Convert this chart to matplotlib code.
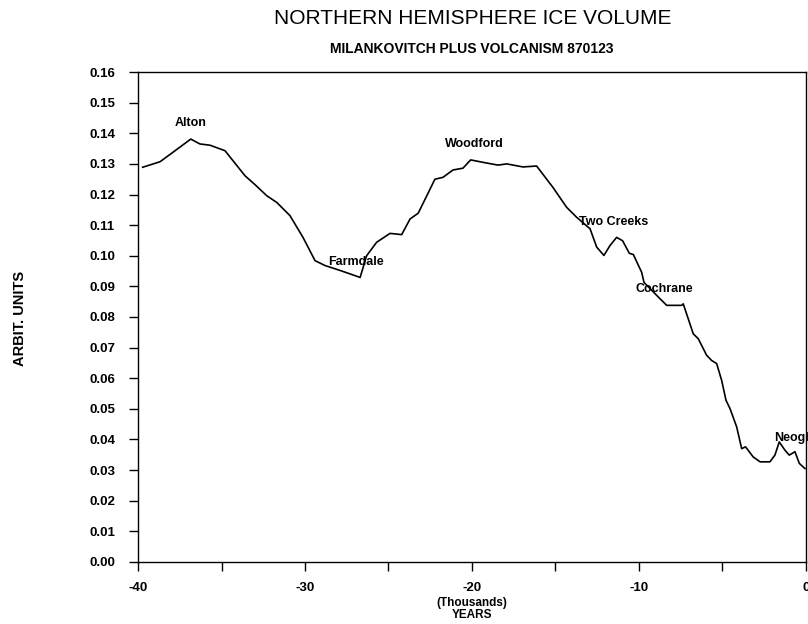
import matplotlib
matplotlib.use('Agg')
import matplotlib.pyplot as plt
import numpy as np

# ─── Data ────────────────────────────────────────────────────────────────────
years = [-39.72, -38.68, -37.78, -36.84, -36.29, -35.69, -34.79, -33.59, -32.99,
         -32.29, -31.69, -30.90, -30.12, -29.40, -28.80, -27.90, -27.00, -26.70,
         -26.31, -25.71, -24.91, -24.21, -23.71, -23.22, -22.22, -21.74, -21.14,
         -20.54, -20.08, -19.34, -18.44, -17.92, -16.95, -16.13, -15.15, -14.33,
         -13.74, -12.93, -12.53, -12.10, -11.74, -11.34, -10.98, -10.58, -10.34,
         -9.84, -9.70, -8.84, -8.34, -7.44, -7.35, -6.75, -6.45, -5.95, -5.65,
         -5.35, -5.05, -4.79, -4.55, -4.15, -3.85, -3.62, -3.16, -2.75, -2.16,
         -1.86, -1.60, -1.26, -1.00, -0.66, -0.40, -0.06]
ice = [0.1289, 0.1307, 0.1343, 0.1381, 0.1365, 0.1361, 0.1343, 0.1261, 0.1232,
       0.1196, 0.1174, 0.1131, 0.1060, 0.0984, 0.0968, 0.0952, 0.0935, 0.0929,
       0.1000, 0.1044, 0.1073, 0.1069, 0.1120, 0.1139, 0.1250, 0.1256, 0.1280,
       0.1286, 0.1313, 0.1305, 0.1296, 0.1300, 0.1290, 0.1293, 0.1223, 0.1158,
       0.1126, 0.1088, 0.1028, 0.1001, 0.1033, 0.1060, 0.1049, 0.1008, 0.1004,
       0.0946, 0.0913, 0.0865, 0.0838, 0.0838, 0.0843, 0.0745, 0.0729, 0.0675,
       0.0658, 0.0648, 0.0593, 0.0528, 0.0501, 0.0441, 0.0370, 0.0376, 0.0343,
       0.0327, 0.0327, 0.0349, 0.0392, 0.0365, 0.0349, 0.0360, 0.0322, 0.0305]

stage_names = ['Alton', 'Farmdale', 'Woodford', 'Two Creeks', 'Cochrane', 'Neoglacial']
stage_x     = [-37.8, -28.6, -21.6, -13.6, -10.2, -1.9]
stage_y     = [0.1434, 0.0980, 0.1366, 0.1110, 0.0893, 0.0404]

x_ticks  = np.arange(-40, 1, 5)
x_labels = [str(int(t)) if t % 10 == 0 else '' for t in x_ticks]
y_ticks  = np.arange(0, 0.161, 0.01)

FONT = 'Liberation Sans'

# ─── Plot ────────────────────────────────────────────────────────────────────
fig = plt.figure(figsize=(8.08, 6.24), dpi=100)
fig.patch.set_facecolor('white')
ax = fig.add_axes([0.1708, 0.0994, 0.8267, 0.7852])

ax.plot(years, ice, color='black', lw=1.2)

# glacial stage names, left edge at the point
for name, x, y in zip(stage_names, stage_x, stage_y):
    ax.text(x, y, name, fontsize=9, fontweight='bold', family=FONT,
            ha='left', va='center', clip_on=False)

ax.set_xlim(-40, 0)
ax.set_ylim(0, 0.16)
ax.set_xticks(x_ticks)
ax.set_xticklabels(x_labels)
ax.set_yticks(y_ticks)
ax.set_yticklabels([f'{v:.2f}' for v in y_ticks])

for lab in ax.get_xticklabels() + ax.get_yticklabels():
    lab.set_fontfamily(FONT)
    lab.set_fontweight('bold')
    lab.set_fontsize(9.5)

ax.tick_params(axis='both', direction='out', length=6.5, width=1, color='black')
ax.tick_params(axis='y', pad=10)
ax.tick_params(axis='x', pad=8)
for sp in ax.spines.values():
    sp.set_linewidth(1.0)

ax.set_xlabel('(Thousands)\nYEARS', fontsize=8.5, fontweight='bold',
              family=FONT, linespacing=1.0, labelpad=2)
fig.text(20 / 808, 1 - 318 / 624, 'ARBIT. UNITS', rotation=90, ha='center',
         va='center', fontsize=10.5, fontweight='bold', family=FONT)

fig.text(0.585, 0.971, 'NORTHERN HEMISPHERE ICE VOLUME', ha='center', va='center',
         fontsize=15, family=FONT)
fig.text(0.584, 0.9215, 'MILANKOVITCH PLUS VOLCANISM 870123', ha='center', va='center',
         fontsize=10, fontweight='bold', family=FONT)

plt.savefig('out.png', dpi=100)
plt.close()
